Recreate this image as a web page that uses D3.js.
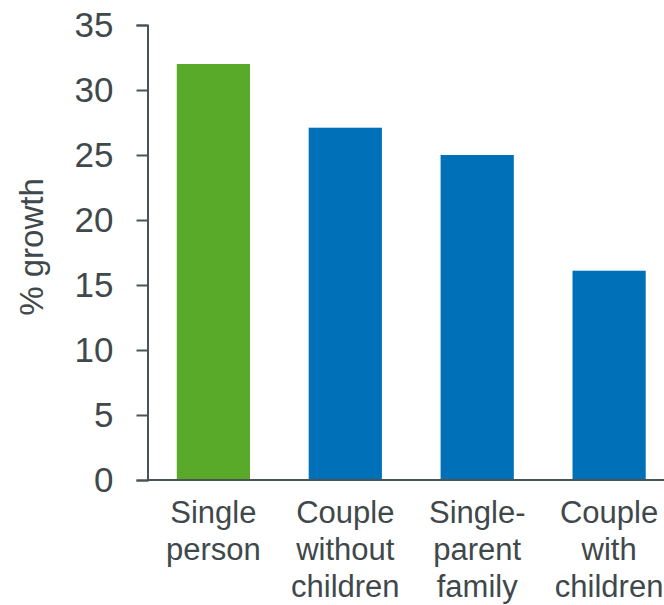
<!DOCTYPE html>
<html>
<head>
<meta charset="utf-8">
<script src="https://cdn.jsdelivr.net/npm/d3@7"></script>
<style>
  html, body { margin: 0; padding: 0; background: #ffffff; }
  svg { display: block; }
  text { font-family: "Liberation Sans", Arial, Helvetica, sans-serif; fill: #3f484b; }
</style>
</head>
<body>
<script>
// Household types and their % growth
const categories = [
  ["Single", "person"],
  ["Couple", "without", "children"],
  ["Single-", "parent", "family"],
  ["Couple", "with", "children"]
];
const values = [32, 27.1, 25, 16.1];
const barColors = ["#5aaa2a", "#0070b8", "#0070b8", "#0070b8"];
const yTicks = [0, 5, 10, 15, 20, 25, 30, 35];
const yLabel = "% growth";

const width = 664, height = 605;
const axisColor = "#4a5356";

const svg = d3.select("body").append("svg")
  .attr("width", width)
  .attr("height", height);

const x = d3.scaleBand()
  .domain(d3.range(categories.length))
  .range([147.5, 675])
  .paddingInner(0.445)
  .paddingOuter(0.222);

const y = d3.scaleLinear()
  .domain([0, 35])
  .range([480, 25]);

// Bars
svg.append("g")
  .selectAll("rect")
  .data(values)
  .join("rect")
  .attr("x", (d, i) => x(i))
  .attr("y", d => y(d))
  .attr("width", x.bandwidth())
  .attr("height", d => y(0) - y(d))
  .attr("fill", (d, i) => barColors[i]);

// Y axis
const yAxis = svg.append("g")
  .attr("transform", "translate(147.5,0)")
  .call(d3.axisLeft(y).tickValues(yTicks).tickSize(11).tickPadding(23).tickSizeOuter(11));
yAxis.select(".domain").attr("stroke", axisColor).attr("stroke-width", 2);
yAxis.selectAll(".tick line").attr("stroke", axisColor).attr("stroke-width", 2);
yAxis.selectAll(".tick text")
  .attr("font-size", 35)
  .attr("fill", "#3f484b")
  .style("font-family", "'Liberation Sans', Arial, sans-serif");

// Baseline
svg.append("line")
  .attr("x1", 147.5)
  .attr("x2", width)
  .attr("y1", y(0))
  .attr("y2", y(0))
  .attr("stroke", axisColor)
  .attr("stroke-width", 2);

// Category labels
const xl = svg.append("g")
  .selectAll("text")
  .data(categories)
  .join("text")
  .attr("text-anchor", "middle")
  .attr("font-size", 31)
  .attr("transform", (d, i) => `translate(${x(i) + x.bandwidth() / 2},0)`);
xl.selectAll("tspan")
  .data(d => d)
  .join("tspan")
  .attr("x", 0)
  .attr("y", (d, j) => 523 + j * 37)
  .text(d => d);

// Y axis title
svg.append("text")
  .attr("transform", "translate(43,247) rotate(-90)")
  .attr("text-anchor", "middle")
  .attr("font-size", 33)
  .text(yLabel);
</script>
</body>
</html>
